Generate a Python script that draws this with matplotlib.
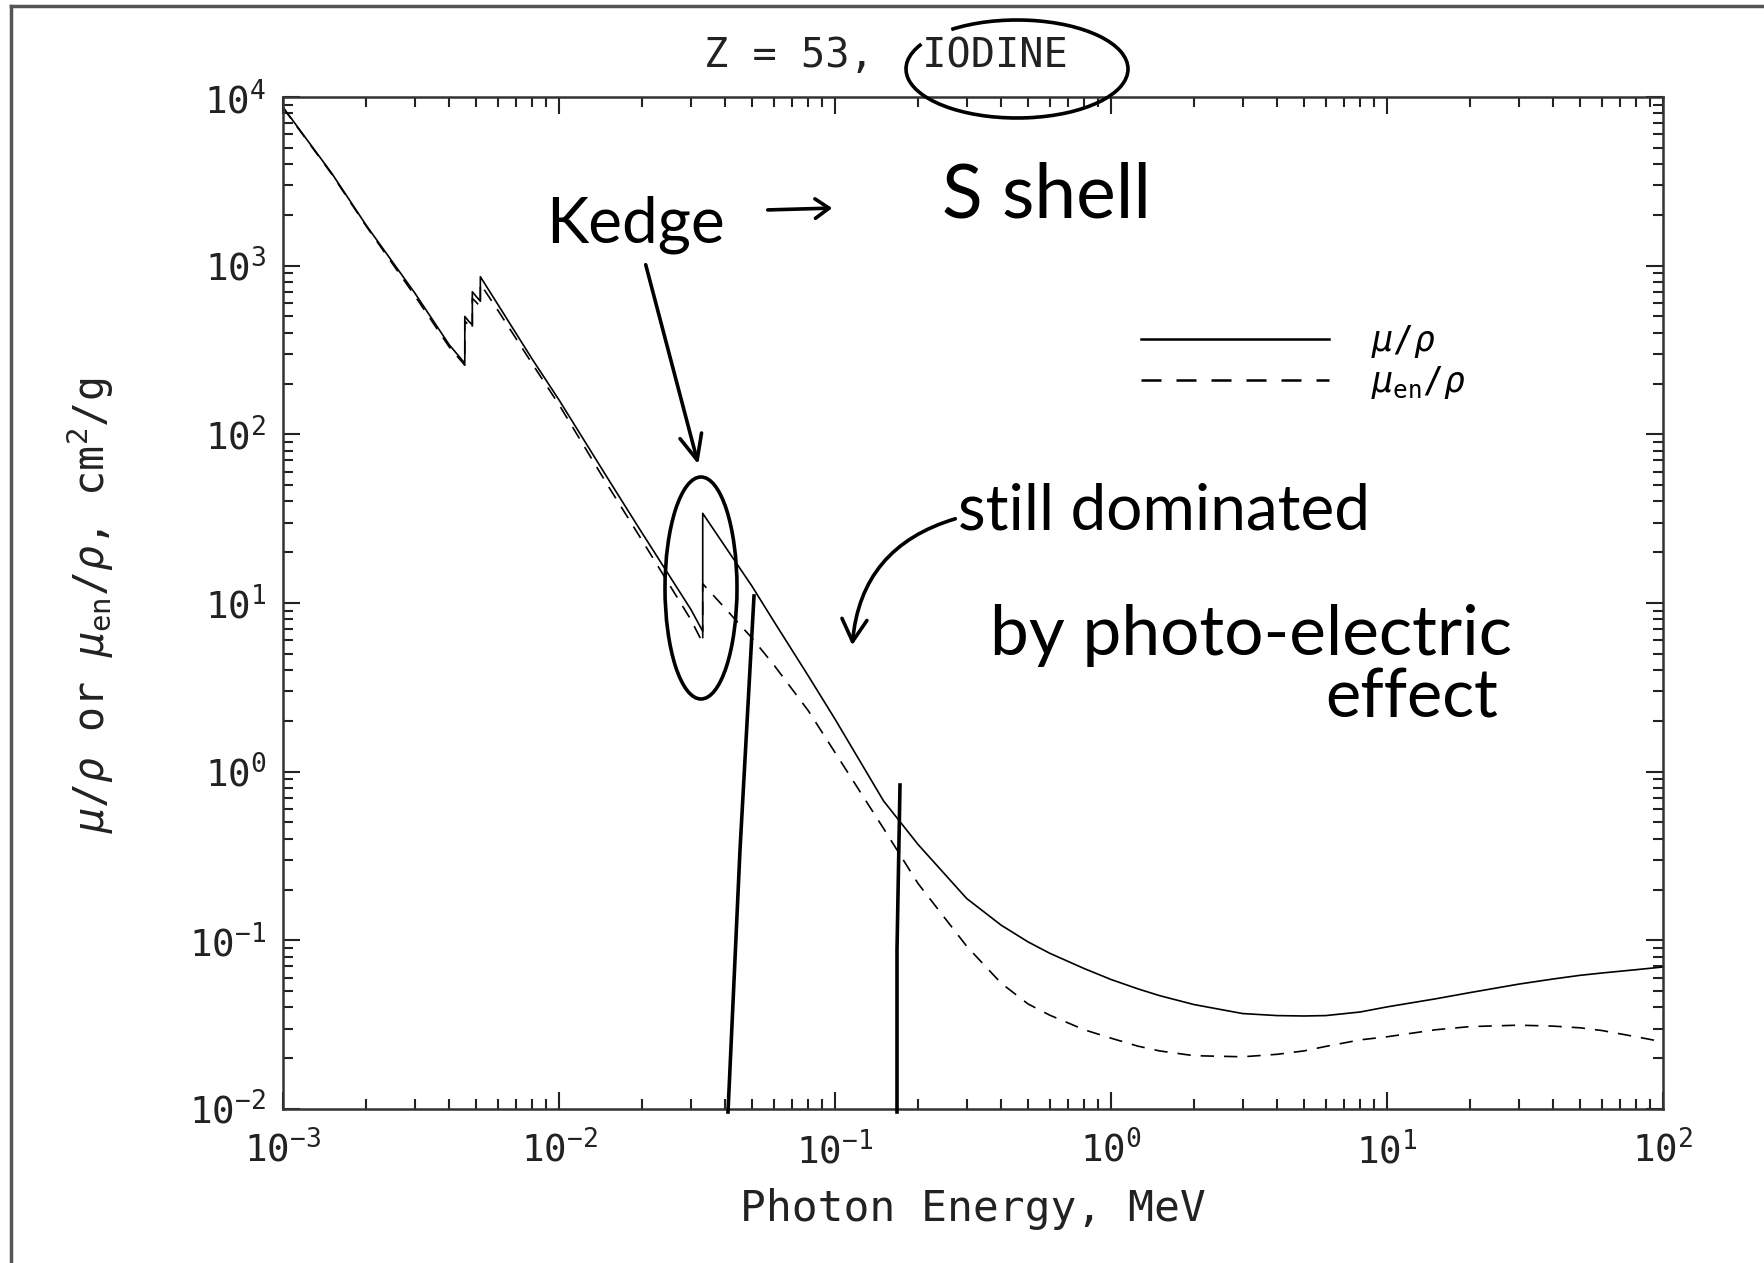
import matplotlib
matplotlib.use("Agg")
import matplotlib.pyplot as plt
import matplotlib.ticker as mt
from matplotlib.patches import Ellipse, Arc, FancyArrowPatch
from matplotlib.lines import Line2D

# ---------------- data ----------------
energy_mev = [1.0e-3, 1.5e-3, 2.0e-3, 3.0e-3, 4.0e-3, 4.5571e-3, 4.5571e-3, 4.7e-3,
              4.8521e-3, 4.8521e-3, 5.0e-3, 5.1881e-3, 5.1881e-3, 6.0e-3, 8.0e-3,
              1.0e-2, 1.5e-2, 2.0e-2, 3.0e-2, 3.3169e-2, 3.3169e-2, 4.0e-2, 5.0e-2,
              6.0e-2, 8.0e-2, 1.0e-1, 1.5e-1, 2.0e-1, 3.0e-1, 4.0e-1, 5.0e-1, 6.0e-1,
              8.0e-1, 1.0, 1.25, 1.5, 2.0, 3.0, 4.0, 5.0, 6.0, 8.0, 10.0, 15.0, 20.0,
              30.0, 40.0, 50.0, 60.0, 80.0, 100.0]

mu_rho = [8700, 3540, 1740, 690, 340, 264, 500, 470,
          445, 700, 660, 615, 860, 590, 279,
          160, 55, 26, 9.2, 6.8, 34, 21.6, 12.6,
          7.8, 3.7, 2.05, 0.67, 0.37, 0.177, 0.123, 0.098, 0.0838,
          0.068, 0.0586, 0.0516, 0.047, 0.0416, 0.0368, 0.0358, 0.0356, 0.0358, 0.0376, 0.0403, 0.045, 0.049,
          0.055, 0.059, 0.062, 0.064, 0.067, 0.0695]

mu_en_rho = [8650, 3500, 1720, 665, 330, 257, 470, 445,
             420, 640, 610, 570, 780, 545, 262,
             150, 50, 23.5, 8.0, 5.8, 13.0, 9.3, 6.2,
             4.3, 2.3, 1.3, 0.46, 0.217, 0.0923, 0.0557, 0.042, 0.036,
             0.0295, 0.0263, 0.0236, 0.0221, 0.0207, 0.0204, 0.0211, 0.0221, 0.0235, 0.0257, 0.0268, 0.0295, 0.0308,
             0.0314, 0.0310, 0.0303, 0.0292, 0.0268, 0.0250]

series_labels = [r"$\mu/\rho$", r"$\mu_{\rm en}/\rho$"]
title_text = "Z = 53,  IODINE"
xlabel_text = "Photon Energy, MeV"
ylabel_text = r"$\mu/\rho$ or $\mu_{\rm en}/\rho$, cm$^2$/g"
notes = ["Kedge", "S shell", "still dominated", "by photo-electric", "effect"]

# ---------------- style ----------------
plt.rcParams["font.family"] = ["DejaVu Sans Mono", "DejaVu Sans"]
plt.rcParams["mathtext.fontset"] = "custom"
plt.rcParams["mathtext.rm"] = "DejaVu Sans Mono"
plt.rcParams["mathtext.it"] = "DejaVu Sans Mono:italic"
plt.rcParams["mathtext.bf"] = "DejaVu Sans Mono:bold"

W, H = 1764, 1263
fig = plt.figure(figsize=(W / 100, H / 100), dpi=100)
fig.patch.set_facecolor("white")


def fp(x, y):
    return (x / W, 1 - y / H)


ax = fig.add_axes([283 / W, 1 - 1109 / H, 1380 / W, 1012 / H])
ax.loglog(energy_mev, mu_rho, color="black", lw=1.2, label=series_labels[0])
ax.loglog(energy_mev, mu_en_rho, color="black", lw=1.2, ls=(0, (8, 6)), label=series_labels[1])
ax.set_xlim(1e-3, 1e2)
ax.set_ylim(1e-2, 1e4)

ax.xaxis.set_major_locator(mt.LogLocator(base=10, numticks=12))
ax.yaxis.set_major_locator(mt.LogLocator(base=10, numticks=12))
ax.xaxis.set_minor_locator(mt.LogLocator(base=10, subs=range(2, 10), numticks=12))
ax.yaxis.set_minor_locator(mt.LogLocator(base=10, subs=range(2, 10), numticks=12))
ax.xaxis.set_minor_formatter(mt.NullFormatter())
ax.yaxis.set_minor_formatter(mt.NullFormatter())
ax.xaxis.set_major_formatter(mt.LogFormatterMathtext())
ax.yaxis.set_major_formatter(mt.LogFormatterMathtext())

ax.tick_params(which="both", direction="in", top=True, right=True, colors="#222222", width=1.5)
ax.tick_params(which="major", length=12, labelsize=27)
ax.tick_params(which="minor", length=7)
ax.tick_params(axis="x", which="major", pad=16)
ax.tick_params(axis="y", which="major", pad=12)
for s in ax.spines.values():
    s.set_linewidth(1.8)
    s.set_color("#333333")

leg = ax.legend(loc="upper left", bbox_to_anchor=(0.622, 0.777), frameon=False,
                fontsize=25, handlelength=5.4, handletextpad=1.2, labelspacing=0.12,
                borderpad=0, borderaxespad=0)
for ln in leg.get_lines():
    ln.set_linewidth(1.8)

fig.text(*fp(886, 56), title_text, ha="center", va="center", fontsize=29, color="#222222")
fig.text(*fp(973, 1209), xlabel_text, ha="center", va="center", fontsize=31, color="#222222")
fig.text(*fp(90, 605), ylabel_text, ha="center", va="center", rotation=90, fontsize=30, color="#222222")

# page frame lines
fig.add_artist(Line2D([11 / W, 1.0], [1 - 6 / H, 1 - 6 / H], transform=fig.transFigure, color="#555555", lw=2.5))
fig.add_artist(Line2D([11 / W, 11 / W], [0.0, 1 - 6 / H], transform=fig.transFigure, color="#555555", lw=2.5))

# ---------------- handwritten annotations ----------------
hw = dict(color="black", family=["Lato", "DejaVu Sans"], fontweight="normal")
fig.text(*fp(546, 243), notes[0], ha="left", va="baseline", fontsize=46, **hw)
fig.text(*fp(942, 218), notes[1], ha="left", va="baseline", fontsize=54, **hw)
fig.text(*fp(958, 530), notes[2], ha="left", va="baseline", fontsize=46, **hw)
fig.text(*fp(990, 655), notes[3], ha="left", va="baseline", fontsize=50, **hw)
fig.text(*fp(1325, 718), notes[4], ha="left", va="baseline", fontsize=48, **hw)

pen = dict(color="black", lw=2.6)
# arrow after "Kedge"
fig.add_artist(FancyArrowPatch(fp(765, 210), fp(835, 208), transform=fig.transFigure,
                               arrowstyle="->,head_length=10,head_width=7", mutation_scale=1, **pen))
# arrow from Kedge down to K-edge
fig.add_artist(FancyArrowPatch(fp(645, 262), fp(699, 467), transform=fig.transFigure,
                               arrowstyle="->,head_length=18,head_width=8", mutation_scale=1, **pen))
# curved arrow from "still"
fig.add_artist(FancyArrowPatch(fp(958, 518), fp(852, 648), transform=fig.transFigure,
                               connectionstyle="arc3,rad=0.35",
                               arrowstyle="->,head_length=16,head_width=9", mutation_scale=1, **pen))
# ellipse around K-edge
ce = fp(701, 588)
fig.add_artist(Ellipse(ce, 72 / W, 222 / H, transform=fig.transFigure, fill=False, **pen))
# ellipse around IODINE
ci = fp(1017, 69)
fig.add_artist(Arc(ci, 222 / W, 98 / H, transform=fig.transFigure, theta1=-200, theta2=140, **pen))
# vertical marker lines
fig.add_artist(Line2D([754 / W, 740 / W, 728 / W], [1 - 596 / H, 1 - 850 / H, 1 - 1112 / H],
                      transform=fig.transFigure, **pen))
fig.add_artist(Line2D([900 / W, 897 / W, 897 / W], [1 - 785 / H, 1 - 950 / H, 1 - 1112 / H],
                      transform=fig.transFigure, **pen))

fig.savefig("out.png", dpi=100, facecolor="white")
